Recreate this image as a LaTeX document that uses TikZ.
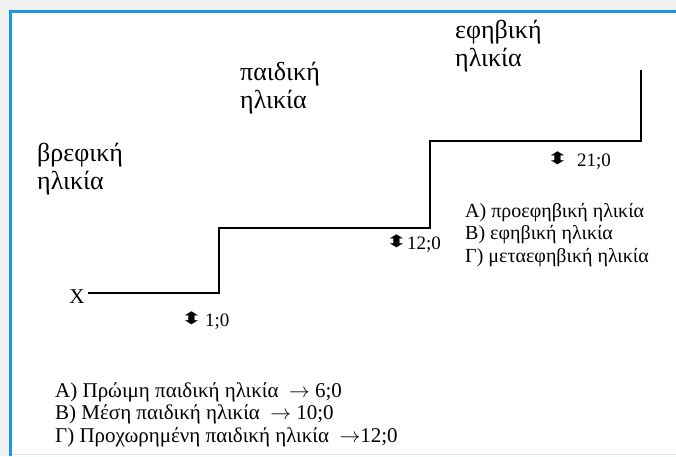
\documentclass[tikz,border=0pt]{standalone}
\usepackage{fontspec}
\setmainfont{Liberation Serif}
\newfontfamily\symfont{DejaVu Sans}
\usepackage{xcolor}
\usepackage{graphicx}
\definecolor{frameColor}{RGB}{25, 150, 230}
\definecolor{pageGray}{RGB}{240, 240, 240}
\definecolor{edgeBlue}{RGB}{210, 236, 250}
\usetikzlibrary{positioning}
\newcommand{\updownsym}{\scalebox{1.6}[1]{⬍}}

\begin{document}
\begin{tikzpicture}[x=1pt, y=-1pt,
    stage/.style={font=\fontsize{26}{28}\selectfont, align=left, anchor=base west, inner sep=0pt},
    age/.style={font=\fontsize{19}{19}\selectfont, anchor=base west, inner sep=0pt},
    updown/.style={font=\symfont\fontsize{17}{17}\selectfont, inner sep=0pt},
    sublist/.style={font=\fontsize{20}{22.3}\selectfont, align=left, anchor=base west, inner sep=0pt},
    stair/.style={line width=1.8pt, black}]
    \useasboundingbox (0,0) rectangle (676,456);
    % page and frame
    \fill[pageGray] (0,0) rectangle (676,456);
    \fill[white] (10,11) rectangle (676,456);
    \draw[frameColor, line width=3pt] (10.5,456) -- (10.5,11.5) -- (676,11.5);
    \draw[edgeBlue, line width=1.5pt] (12,454.5) -- (676,454.5);
    % stages (base = last line)
    \node[stage] (infant) at (37,189) {βρεφική\\ηλικία};
    \node[stage] (child) at (240,108) {παιδική\\ηλικία};
    \node[stage] (teen) at (455,66) {εφηβική\\ηλικία};
    % staircase
    \node[font=\fontsize{21}{21}\selectfont, inner sep=0pt, anchor=base] (startX) at (77,303) {X};
    \coordinate (stepA) at (219,293);
    \coordinate (stepB) at (430,228);
    \coordinate (stepC) at (641,141);
    \draw[stair] (88,293) -- (stepA) |- (stepB) |- (stepC) -- (641,70);
    % ages
    \node[age] (ageOne) at (205,326) {1;0};
    \node[age] (ageTwelve) at (407,249) {12;0};
    \node[age] (ageTwentyOne) at (577,166) {21;0};
    \node[updown, left=2pt of ageOne, yshift=3pt] (markOne) {\updownsym};
    \node[updown, left=-1pt of ageTwelve, yshift=3pt] (markTwelve) {\updownsym};
    \node[updown, left=8pt of ageTwentyOne, yshift=3pt] (markTwentyOne) {\updownsym};
    % sub-stages (base = last line)
    \node[sublist] (teenList) at (465,262) {Α) προεφηβική ηλικία\\Β) εφηβική ηλικία\\Γ) μεταεφηβική ηλικία};
    \node[sublist, font=\fontsize{21}{22.5}\selectfont] (childList) at (55,442) {Α) Πρώιμη παιδική ηλικία \ $\rightarrow$ 6;0\\Β) Μέση παιδική ηλικία \ $\rightarrow$ 10;0\\Γ) Προχωρημένη παιδική ηλικία \ $\rightarrow$12;0};
\end{tikzpicture}
\end{document}
